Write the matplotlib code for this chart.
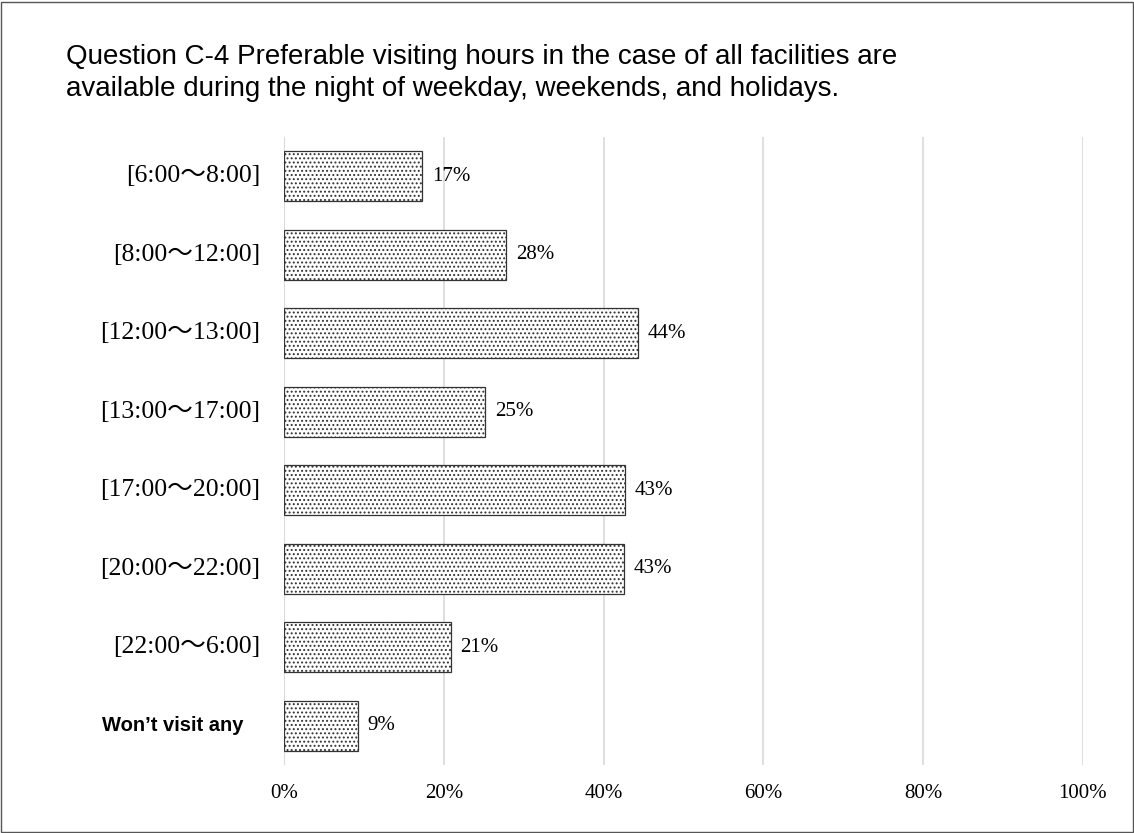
import numpy as np
import matplotlib.pyplot as plt
from matplotlib.patches import Rectangle

categories = ['[6:00～8:00]', '[8:00～12:00]', '[12:00～13:00]', '[13:00～17:00]',
              '[17:00～20:00]', '[20:00～22:00]', '[22:00～6:00]', "Won\u2019t visit any"]
values = [17.3, 27.8, 44.3, 25.2, 42.7, 42.6, 20.9, 9.3]
labels = ['17%', '28%', '44%', '25%', '43%', '43%', '21%', '9%']

serif = ['Liberation Serif', 'Noto Sans CJK JP', 'DejaVu Serif']
plt.rcParams['hatch.linewidth'] = 0.9

fig = plt.figure(figsize=(11.34, 8.33), dpi=100)
ax = fig.add_axes([0.2504, 0.0816, 0.7046, 0.7539])

y = np.arange(len(categories))
ax.barh(y, values, height=0.64, color='white', edgecolor='#333333', linewidth=0.9,
        hatch='....', zorder=3)

for yi, v, lab in zip(y, values, labels):
    ax.text(v + 1.2, yi, lab, va='center', ha='left', fontsize=15, family=serif)

ax.set_xlim(0, 100)
ax.set_ylim(len(categories) - 0.5, -0.5)
ax.set_xticks(np.arange(0, 101, 20))
ax.set_xticklabels([f'{t}%' for t in range(0, 101, 20)], family=serif, fontsize=15)
ax.set_yticks(y)
ax.set_yticklabels([])
ax.grid(axis='x', color='#d9d9d9', linewidth=1.2, zorder=0)
for s in ax.spines.values():
    s.set_visible(False)
ax.axvline(0, color='#d9d9d9', linewidth=1.5, zorder=1)
ax.tick_params(length=0, pad=14)

for yi, cat in zip(y, categories):
    if cat.startswith('Won'):
        ax.text(-0.051, yi, cat, ha='right', va='center', fontsize=14.5, fontweight='bold',
                family='Liberation Sans', transform=ax.get_yaxis_transform())
    else:
        ax.text(-0.030, yi, cat, ha='right', va='center', fontsize=18.5, family=serif,
                transform=ax.get_yaxis_transform())

fig.text(66 / 1134, 1 - 57 / 833, 'Question C-4 Preferable visiting hours in the case of all facilities are',
         fontsize=20, family='Liberation Sans', va='center', ha='left')
fig.text(66 / 1134, 1 - 89 / 833, 'available during the night of weekday, weekends, and holidays.',
         fontsize=20, family='Liberation Sans', va='center', ha='left')

fig.patches.append(Rectangle((0.001, 0.001), 0.998, 0.997, transform=fig.transFigure,
                             fill=False, edgecolor='#555555', linewidth=1))

fig.savefig('out.png', dpi=100)
